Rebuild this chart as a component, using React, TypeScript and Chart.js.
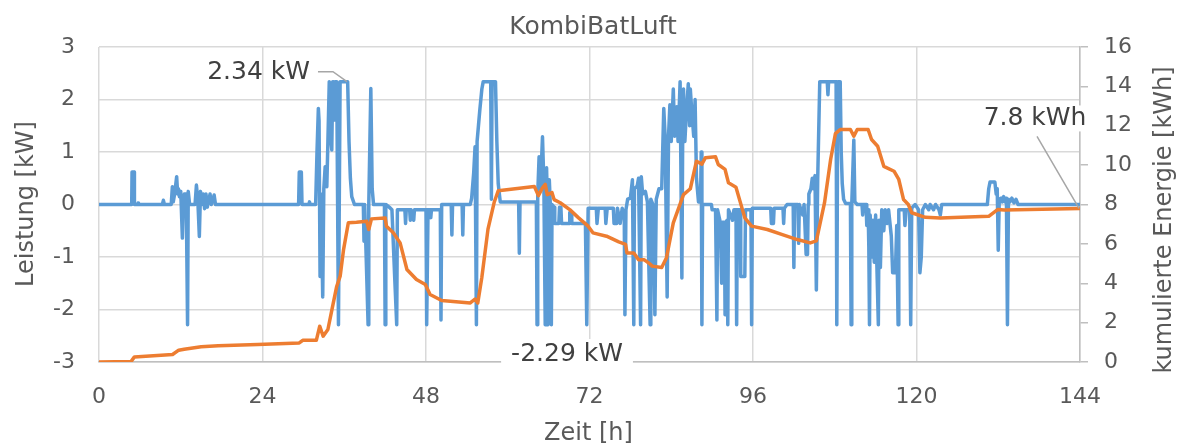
import React, { useEffect, useRef } from "react";
import { Chart, registerables } from "chart.js";

Chart.register(...registerables);

// ---- Data ----
const chartTitle = "KombiBatLuft";
const xAxisTitle = "Zeit [h]";
const leftAxisTitle = "Leistung [kW]";
const rightAxisTitle = "kumulierte Energie [kWh]";

const xTicks = [0, 24, 48, 72, 96, 120, 144];
const powerTicks = [-3, -2, -1, 0, 1, 2, 3];
const energyTicks = [0, 2, 4, 6, 8, 10, 12, 14, 16];

// power [kW] over time [h]: [t, kW]
const powerSeries: number[][] = [
  [0, 0], [4.8, 0], [4.85, 0.62], [5.15, 0.62], [5.2, 0], [5.7, 0], [5.75, 0.03], [5.8, 0],
  [9.3, 0], [9.45, 0.08], [9.6, 0], [10.6, 0], [10.77, 0.34], [10.9, 0.05], [11.1, 0.2], [11.4, 0.53],
  [11.55, 0.2], [11.65, 0.3], [11.8, 0.15], [12.0, 0.25], [12.24, -0.64], [12.4, 0.1], [12.53, 0.2],
  [12.8, 0.2], [13.0, -2.29], [13.1, 0.25], [13.3, 0], [14.1, 0], [14.3, 0.37], [14.5, 0.1],
  [14.73, -0.61], [14.9, 0.25], [15.1, 0], [15.3, 0.2], [15.5, -0.08], [15.7, 0.2], [15.9, -0.05],
  [16.3, 0.2], [16.5, 0], [16.9, 0.18], [17.1, 0], [29.3, 0], [29.4, 0.62], [29.7, 0.62], [29.8, 0],
  [30.8, 0], [30.9, 0.05], [31.0, 0], [31.8, 0],
  [32.0, 1.0], [32.2, 1.83], [32.3, 1.6], [32.45, -1.37], [32.6, 0.2], [32.84, -1.76], [33.0, 0.3],
  [33.2, 0.72], [33.3, 0.5], [33.44, 0.34], [33.6, 1.2], [33.8, 2.34], [34.0, 1.3], [34.17, 1.04],
  [34.3, 2.34], [34.41, 2.34], [34.55, 1.61], [34.66, 2.34], [34.9, 2.34], [35.15, -2.29],
  [35.39, 2.34], [36.5, 2.34], [36.7, 1.2], [36.9, 0.5], [37.1, 0.15], [37.5, 0],
  [38.8, 0], [38.9, -0.7], [39.0, 0], [39.5, -2.29], [39.6, 0], [39.9, 2.21], [40.1, 0.3], [40.3, 0],
  [41.9, 0], [42.0, -2.29], [42.1, 0], [42.6, -0.05], [43.0, -0.1], [43.4, -1.37], [43.7, -2.29],
  [43.8, -0.1], [44.9, -0.1], [45.0, -0.36], [45.1, -0.1], [45.6, -0.1], [45.7, -0.3], [45.8, -0.1],
  [46.2, -0.3], [46.3, -0.1], [48.0, -0.1], [48.1, -2.29], [48.3, -0.1], [48.6, -0.1], [48.7, -0.25],
  [48.8, -0.1], [50.1, -0.1], [50.2, -2.2], [50.3, 0], [51.7, 0], [51.8, -0.58], [51.9, 0], [53.3, 0],
  [53.4, -0.58], [53.5, 0], [54.5, 0], [54.7, 0.12], [55.0, 0.6], [55.2, 1.1], [55.4, -2.29],
  [55.5, 1.2], [55.7, 1.5], [55.9, 1.8], [56.2, 2.2], [56.4, 2.34],
  [57.5, 2.34], [57.6, 0.1], [57.7, 2.34], [58.2, 2.34], [58.4, 1.2], [58.6, 0.4], [58.9, 0.05],
  [61.6, 0.05], [61.7, -0.93], [61.8, 0.05], [64.2, 0.05],
  [64.3, -2.29], [64.4, 0.2], [64.6, 0.91], [64.8, 0.3], [65.1, 1.29], [65.3, 0.4], [65.5, -2.29],
  [65.6, 0.5], [65.7, 0.7], [65.8, 0.1], [65.9, -2.29], [66.0, 0.2], [66.1, 0.47], [66.25, 0],
  [66.4, -2.29], [66.5, 0], [66.8, -0.05], [66.9, -0.36], [67.5, -0.36], [67.6, -0.05], [67.8, -0.05],
  [67.9, -0.36], [69.0, -0.36], [69.1, -0.15], [69.3, -0.15], [69.4, -0.36], [71.4, -0.36],
  [71.6, -2.29], [71.8, -0.07],
  [73.0, -0.07], [73.1, -0.36], [73.3, -0.07], [74.3, -0.07], [74.4, -0.36], [74.6, -0.07],
  [75.5, -0.07], [75.6, -0.36], [76.0, -0.36], [76.1, -0.07], [76.5, -0.36], [76.8, -0.07],
  [77.1, -0.2], [77.2, -2.1], [77.35, -0.1], [77.6, 0.1], [78.0, 0.12], [78.3, 0.47], [78.5, -2.29],
  [78.6, 0.3], [79.0, 0.35], [79.2, 0.5], [79.5, -2.29], [79.6, 0.53], [79.8, 0.2], [80.2, 0.25],
  [80.5, 0.05], [80.9, -2.29], [81.0, 0.1], [81.3, 0], [81.6, -2.1], [81.8, 0.1], [82.2, 0.3],
  [82.6, 0.3],
  [82.9, 1.83], [83.1, 1.3], [83.4, -1.76], [83.6, 1.3], [83.8, 1.9], [84.0, 1.2], [84.3, 2.2],
  [84.5, 1.3], [84.8, 1.86], [85.0, 1.2], [85.3, 2.34], [85.56, -1.4], [85.7, 1.8], [85.8, 2.2],
  [86.0, 1.2], [86.2, 1.7], [86.5, 2.3], [86.7, 1.5], [86.8, 2.2], [87.0, 1.8], [87.3, 1.3],
  [87.5, 2.0], [87.7, 0.5], [88.0, 0.05], [88.3, 0.05], [88.4, 1.0], [88.5, -2.29], [88.6, 0],
  [89.9, 0], [90.0, -0.1], [90.5, -0.1], [90.7, -2.2], [90.8, -0.1], [91.2, -0.34], [91.4, -1.5],
  [91.5, -0.34], [91.8, -0.34], [91.9, -2.1], [92.0, -0.34], [92.2, -0.3], [92.3, -2.29], [92.4, -0.1],
  [93.0, -0.3], [93.2, -0.1], [93.5, -0.1], [93.6, -2.29], [93.7, -0.1], [94.1, -0.1], [94.2, -1.37],
  [94.8, -1.37], [94.9, -0.1], [95.7, -0.1], [95.8, -2.29], [95.9, -0.07],
  [98.6, -0.07], [98.7, -0.36], [99.0, -0.36], [99.1, -0.07], [100.4, -0.07], [100.5, -0.36],
  [100.6, -0.07], [101.0, 0], [101.9, 0], [102.0, -1.2], [102.1, 0], [102.6, 0], [102.7, -0.74],
  [102.8, 0], [103.3, -0.2], [103.5, 0], [103.8, -0.95], [104.0, -0.95], [104.1, 0], [104.2, 0.2],
  [104.5, 0.3], [104.7, 0.5], [104.9, 0.3], [105.1, 0.55], [105.3, -1.63], [105.5, 0.5], [105.8, 2.34],
  [106.9, 2.34], [107.0, 2.09], [107.1, 2.34], [108.2, 2.34], [108.3, -2.29], [108.45, 2.34],
  [108.8, 2.34], [108.95, 1.0], [109.1, 0.4], [109.3, 0.1], [109.6, 0.02], [110.3, 0.02],
  [110.4, -2.29], [110.5, 0.02], [110.8, 1.23], [110.95, 0.05], [111.3, 0],
  [112.0, 0], [112.1, -0.2], [112.2, 0], [112.6, 0], [112.7, -0.4], [112.9, -0.1], [113.0, -0.8],
  [113.1, -2.29], [113.2, -0.2], [113.4, -1.0], [113.6, -0.3], [113.8, -1.1], [114.0, -0.2],
  [114.4, -2.29], [114.5, -0.3], [114.7, -1.2], [114.9, -0.1], [115.2, -0.5], [115.4, -0.1],
  [115.7, -0.36], [115.9, -0.1], [116.3, -0.6], [116.5, -1.3], [116.9, -1.3], [117.1, -0.4],
  [117.3, -2.29], [117.4, -0.1], [118.2, -0.1], [118.3, -0.4], [118.5, -0.1], [119.0, -0.1],
  [119.15, -2.29], [119.3, -0.07], [119.8, 0], [120.3, -0.1], [120.5, -1.3], [120.7, -1.0],
  [120.9, -0.1], [121.3, 0], [121.8, -0.1], [122.0, 0], [122.5, -0.1], [122.8, 0], [123.3, -0.1],
  [123.5, -0.2], [123.7, 0],
  [130.4, 0], [130.6, 0.3], [130.8, 0.43], [131.5, 0.43], [131.7, 0.2], [131.85, 0.3], [132.0, -0.87],
  [132.15, 0.1], [132.4, 0.12], [132.6, 0.05], [132.8, 0.15], [133.0, 0.05], [133.2, 0.12],
  [133.35, -2.29], [133.5, 0.1], [133.7, 0.05], [134.0, 0.12], [134.3, 0.03], [134.6, 0.1],
  [134.9, 0], [144, 0],
];

// cumulative energy [kWh] over time [h]: [t, kWh]
const energySeries: number[][] = [
  [0, 0], [4.7, 0.02], [5.2, 0.26], [10.8, 0.38], [11.7, 0.6], [12.5, 0.65], [15.0, 0.77],
  [17.5, 0.83], [23.3, 0.89], [29.4, 0.97], [29.9, 1.1], [31.9, 1.1], [32.4, 1.82], [32.9, 1.31],
  [33.6, 1.65], [34.2, 2.67], [34.9, 3.85], [35.4, 4.36], [35.9, 5.71], [36.6, 7.07], [37.8, 7.1],
  [39.3, 7.15], [39.6, 6.73], [40.0, 7.27], [42.0, 7.32], [42.2, 6.9], [43.2, 6.56], [44.2, 6.05],
  [45.2, 4.7], [46.6, 4.19], [47.9, 3.94], [48.6, 3.43], [50.3, 3.12], [54.5, 3.0], [55.2, 3.2],
  [55.6, 3.0], [56.2, 4.3], [57.1, 6.75], [58.0, 8.1], [58.6, 8.7], [63.9, 8.92], [64.5, 8.45],
  [65.1, 8.85], [65.5, 9.02], [65.8, 8.5], [66.5, 8.6], [66.8, 8.25], [67.7, 8.09], [69.1, 7.74],
  [70.4, 7.32], [71.8, 6.9], [72.5, 6.56], [74.5, 6.39], [76.3, 6.1], [77.3, 5.97], [77.5, 5.54],
  [78.5, 5.54], [79.2, 5.2], [80.0, 5.2], [80.8, 5.0], [81.2, 4.87], [82.6, 4.8], [83.3, 5.3],
  [84.3, 7.07], [85.8, 8.5], [86.8, 8.8], [87.7, 10.2], [88.5, 10.05], [89.0, 10.37], [90.5, 10.42],
  [90.9, 10.03], [91.9, 9.78], [92.4, 9.1], [93.5, 8.88], [94.8, 7.32], [95.8, 6.9], [98.1, 6.73],
  [100.2, 6.48], [102.5, 6.22], [104.4, 6.05], [105.3, 6.15], [106.5, 8.09], [107.4, 10.3],
  [108.1, 11.6], [108.8, 11.81], [110.3, 11.81], [110.8, 11.47], [111.3, 11.81], [112.9, 11.81],
  [113.4, 11.3], [114.3, 10.96], [115.2, 9.94], [116.7, 9.69], [117.4, 9.27], [118.1, 8.25],
  [118.8, 8.0], [119.3, 7.58], [121.3, 7.35], [123.5, 7.32], [130.6, 7.4], [131.9, 7.74],
  [132.9, 7.72], [144, 7.8],
];

const maxLabel = { t: 36.4, v: 2.34, text: "2.34 kW" };
const minLabel = { t: 68.7, text: "-2.29 kW" };
const endLabel = { t: 144, v: 7.8, text: "7.8 kWh" };

const FONT = "'DejaVu Sans', Verdana, sans-serif";
const TEXT = "#595959";
const GRID = "#d9d9d9";
const AXIS = "#bfbfbf";

const labelsPlugin = {
  id: "dataLabels",
  afterDraw(chart: any) {
    const { ctx, chartArea } = chart;
    ctx.save();
    ctx.fillStyle = TEXT;
    ctx.textAlign = "center";
    ctx.textBaseline = "middle";
    ctx.font = `24px ${FONT}`;
    // x axis title
    ctx.fillText(xAxisTitle, (chartArea.left + chartArea.right) / 2 - 1, 434);
    // left axis title
    ctx.save();
    ctx.translate(27, 204);
    ctx.rotate(-Math.PI / 2);
    ctx.fillText(leftAxisTitle, 0, 0);
    ctx.restore();
    // right axis title
    ctx.save();
    ctx.translate(1165, 220);
    ctx.rotate(-Math.PI / 2);
    ctx.fillText(rightAxisTitle, 0, 0);
    ctx.restore();
    ctx.restore();
  },
  afterDatasetsDraw(chart: any) {
    const { ctx, scales, chartArea } = chart;
    const x = scales.x, y = scales.y, y1 = scales.y1;
    ctx.save();
    ctx.font = `25px ${FONT}`;
    ctx.textBaseline = "middle";
    ctx.strokeStyle = "#a6a6a6";
    ctx.lineWidth = 1.5;

    // max label
    const ax = x.getPixelForValue(maxLabel.t);
    const ay = y.getPixelForValue(maxLabel.v);
    ctx.beginPath();
    ctx.moveTo(ax, ay);
    ctx.lineTo(ax - 14, ay - 10);
    ctx.lineTo(ax - 29, ay - 10);
    ctx.stroke();
    ctx.fillStyle = "#404040";
    ctx.textAlign = "right";
    ctx.fillText(maxLabel.text, ax - 37, ay - 9);

    // min label with white box
    const mx = x.getPixelForValue(minLabel.t);
    const my = chartArea.bottom - 8;
    const w = ctx.measureText(minLabel.text).width;
    ctx.fillStyle = "#ffffff";
    ctx.fillRect(mx - w / 2 - 10, my - 15, w + 20, 30);
    ctx.fillStyle = "#404040";
    ctx.textAlign = "center";
    ctx.fillText(minLabel.text, mx, my);

    // end label
    const ex = x.getPixelForValue(endLabel.t);
    const ey = y1.getPixelForValue(endLabel.v);
    ctx.beginPath();
    ctx.moveTo(ex - 1, ey);
    ctx.lineTo(ex - 43, ey - 72);
    ctx.stroke();
    const ew = ctx.measureText(endLabel.text).width;
    const tx = ex - 45;
    const ty = ey - 90;
    ctx.fillStyle = "#ffffff";
    ctx.fillRect(tx - ew / 2 - 2, ty - 13, ew + 4, 26);
    ctx.fillStyle = "#404040";
    ctx.textAlign = "center";
    ctx.fillText(endLabel.text, tx, ty);
    ctx.restore();
  },
};

export default function App() {
  const ref = useRef<HTMLCanvasElement | null>(null);

  useEffect(() => {
    if (!ref.current) return;
    const chart = new Chart(ref.current, {
      type: "line",
      data: {
        datasets: [
          {
            label: "Energie",
            data: energySeries.map(([t, v]) => ({ x: t, y: v })),
            yAxisID: "y1",
            borderColor: "#ed7d31",
            backgroundColor: "#ed7d31",
            borderWidth: 3.5,
            pointRadius: 0,
            tension: 0,
            borderJoinStyle: "round",
            borderCapStyle: "round",
            order: 0,
          },
          {
            label: "Leistung",
            data: powerSeries.map(([t, v]) => ({ x: t, y: v })),
            yAxisID: "y",
            borderColor: "#5b9bd5",
            backgroundColor: "#5b9bd5",
            borderWidth: 3.5,
            pointRadius: 0,
            tension: 0,
            borderJoinStyle: "round",
            borderCapStyle: "round",
            order: 1,
          },
        ],
      },
      options: {
        animation: false,
        responsive: false,
        events: [],
        layout: { padding: 0 },
        plugins: {
          legend: { display: false },
          tooltip: { enabled: false },
          title: {
            display: true,
            text: chartTitle,
            color: TEXT,
            font: { family: FONT, size: 25, weight: "normal" },
            padding: { top: 12, bottom: 5 },
          },
        },
        scales: {
          x: {
            type: "linear",
            min: 0,
            max: 144,
            afterBuildTicks: (s: any) => { s.ticks = xTicks.map((v) => ({ value: v })); },
            afterFit: (s: any) => { s.height = 86; },
            ticks: { color: TEXT, font: { family: FONT, size: 22 }, padding: 22, maxRotation: 0 },
            grid: { color: GRID, lineWidth: 1.5, drawTicks: false },
            border: { display: true, color: AXIS, width: 1.5 },
          },
          y: {
            type: "linear",
            position: "left",
            min: -3,
            max: 3,
            afterBuildTicks: (s: any) => { s.ticks = powerTicks.map((v) => ({ value: v })); },
            afterFit: (s: any) => { s.width = 99; },
            ticks: { color: TEXT, font: { family: FONT, size: 22 }, padding: 24 },
            grid: { color: GRID, lineWidth: 1.5, drawTicks: false },
            border: { display: false },
          },
          y1: {
            type: "linear",
            position: "right",
            min: 0,
            max: 16,
            afterBuildTicks: (s: any) => { s.ticks = energyTicks.map((v) => ({ value: v })); },
            afterFit: (s: any) => { s.width = 106; },
            ticks: { color: TEXT, font: { family: FONT, size: 22 }, padding: 16 },
            grid: { drawOnChartArea: false, drawTicks: true, tickLength: 8, color: AXIS, lineWidth: 1.5 },
            border: { display: true, color: AXIS, width: 1.5 },
          },
        },
      },
      plugins: [labelsPlugin],
    } as any);
    return () => chart.destroy();
  }, []);

  return (
    <div style={{ position: "fixed", left: 0, top: 0, width: 1186, height: 448, background: "#fff" }}>
      <canvas ref={ref} width={1186} height={448} style={{ display: "block" }} />
    </div>
  );
}
